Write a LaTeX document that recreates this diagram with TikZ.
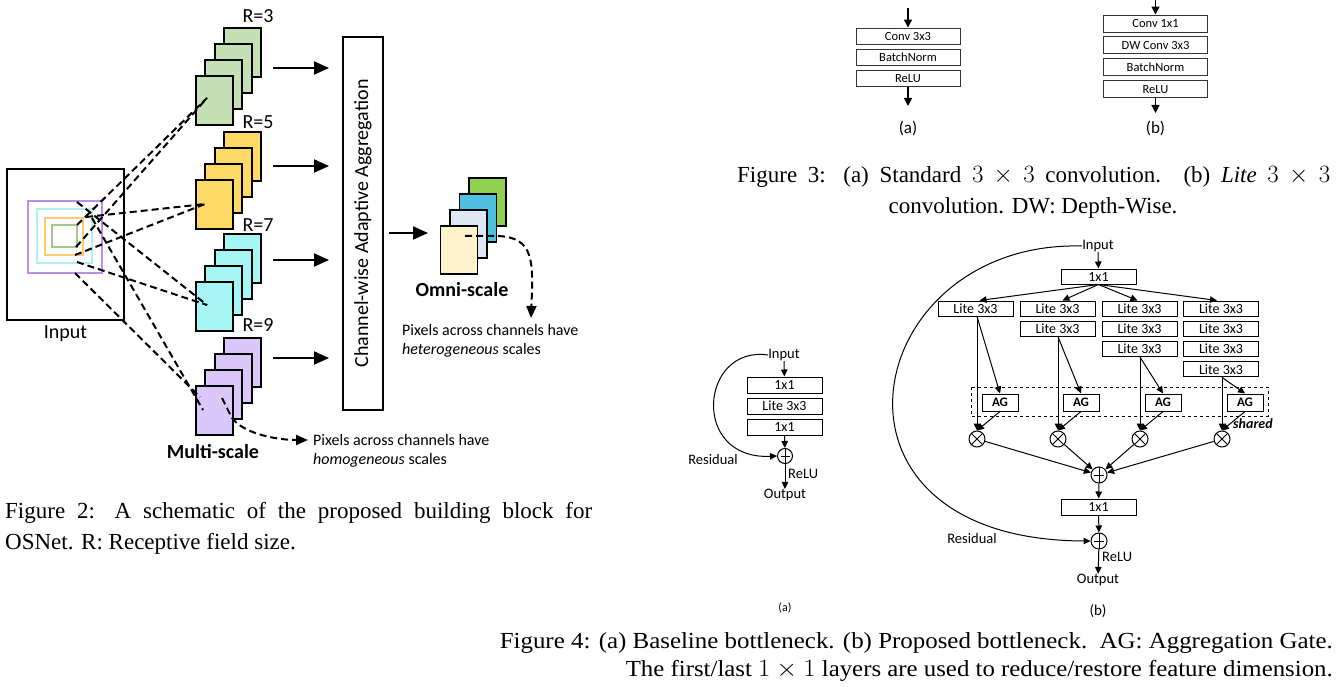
\documentclass[tikz,border=0pt]{standalone}
\usepackage{fontspec}
\setmainfont{Liberation Serif}
\newfontfamily\diagfont{Carlito}
\usetikzlibrary{arrows.meta, positioning, calc}

\definecolor{fmgreen}{RGB}{197,224,180}
\definecolor{fmyellow}{RGB}{255,217,102}
\definecolor{fmcyan}{RGB}{166,246,246}
\definecolor{fmpurple}{RGB}{218,200,250}
\definecolor{omgreen}{RGB}{146,208,80}
\definecolor{omblue}{RGB}{80,192,226}
\definecolor{omgray}{RGB}{222,232,244}
\definecolor{omcream}{RGB}{255,242,204}
\definecolor{rfpurple}{RGB}{190,140,235}
\definecolor{rfcyan}{RGB}{175,240,240}
\definecolor{rfyellow}{RGB}{250,205,110}
\definecolor{rfgreen}{RGB}{160,200,140}

\tikzset{
  fmap/.style={rectangle, draw=black, line width=2pt, minimum width=37pt,
               minimum height=49pt, inner sep=0pt},
  omap/.style={fmap, line width=1.6pt, minimum height=48pt},
  rfield/.style={line width=2pt},
  dline/.style={draw=black, line width=2pt, dash pattern=on 7pt off 4pt},
  bigarrow/.style={draw=black, line width=2pt, -{Triangle[length=15pt,width=13pt]}},
  dcurve/.style={dline, -{Triangle[length=12pt,width=10pt]}},
  bigtext/.style={font=\diagfont\fontsize{20}{24}\selectfont, inner sep=0pt},
  notetext/.style={font=\diagfont\fontsize{16}{19}\selectfont, inner sep=0pt,
                   align=left},
  convbox/.style={rectangle, draw=black!80, line width=0.9pt, minimum width=104pt,
                  inner sep=0pt, font=\diagfont\fontsize{12.5}{14}\selectfont},
  carr/.style={draw=black, line width=1.2pt, -{Triangle[length=8pt,width=8pt]}},
  layer/.style={rectangle, draw=black, line width=1pt, minimum width=75pt,
                minimum height=15pt, inner sep=0pt,
                font=\diagfont\fontsize{14}{16}\selectfont},
  agbox/.style={rectangle, draw=black, line width=1pt, minimum width=36pt,
                minimum height=17pt, inner sep=0pt,
                font=\diagfont\bfseries\fontsize{13}{15}\selectfont},
  opcirc/.style={circle, draw=black, line width=1pt, fill=white,
                 minimum size=16pt, inner sep=0pt},
  mulop/.style={opcirc, path picture={
      \draw[line width=0.8pt] (path picture bounding box.south west) -- (path picture bounding box.north east)
                              (path picture bounding box.north west) -- (path picture bounding box.south east);}},
  addop/.style={opcirc, path picture={
      \draw[line width=0.8pt] ($(path picture bounding box.north)+(0,3pt)$) -- ($(path picture bounding box.south)+(0,-3pt)$)
                              ($(path picture bounding box.west)+(3pt,0)$) -- ($(path picture bounding box.east)+(-3pt,0)$);}},
  arr/.style={draw=black, line width=1pt, -{Triangle[length=7pt,width=6.5pt]}},
  lbl/.style={font=\diagfont\fontsize{14.5}{17}\selectfont, inner sep=0pt},
  captxt/.style={font=\fontsize{23}{28}\selectfont, inner sep=0pt},
}

% one stack of four feature maps: name, colour, top of the back map
\newcommand{\fmstack}[3]{%
  \foreach \i in {0,...,3}{
    \node[fmap, fill=#2, anchor=north west] (#1\i) at (223-9.3*\i, #3+16*\i) {};
  }%
}

\begin{document}
\begin{tikzpicture}[x=1pt, y=-1pt]
  \useasboundingbox (0,0) rectangle (1336,687);

  % ---------------- Figure 2 ----------------
  \node[draw=black, line width=2pt, minimum width=117pt, minimum height=151pt,
        inner sep=0pt, anchor=north west] (inp) at (6,168) {};
  \node[bigtext, below=4pt of inp] (inplbl) {Input};
  \draw[rfield, draw=rfpurple] (28,201) rectangle (102,273);
  \draw[rfield, draw=rfcyan]   (37,209) rectangle (92,263);
  \draw[rfield, draw=rfyellow] (45,218) rectangle (83,255);
  \draw[rfield, draw=rfgreen]  (52,225) rectangle (77,247);

  \fmstack{s3}{fmgreen}{27}
  \fmstack{s5}{fmyellow}{131}
  \fmstack{s7}{fmcyan}{233}
  \fmstack{s9}{fmpurple}{337}

  \node[bigtext] (r3) at (258,16) {R=3};
  \node[bigtext] (r5) at (258,122) {R=5};
  \node[bigtext] (r7) at (258,225) {R=7};
  \node[bigtext] (r9) at (258,325) {R=9};

  % receptive field corners and their pixels
  \coordinate (g1) at (77,225);  \coordinate (g2) at (76,247);
  \coordinate (y1) at (86,217);  \coordinate (y2) at (75,255);
  \coordinate (c1) at (77,202);  \coordinate (c2) at (77,262);
  \coordinate (v1) at (92,218);  \coordinate (v2) at (75,273);
  \coordinate (p3) at (207,98);
  \coordinate (p5) at (205,204);
  \coordinate (p7) at (207,305);
  \coordinate (p9a) at (203,410); \coordinate (p9b) at (200,397);
  \draw[dline] (g1) -- (p3);  \draw[dline] (g2) -- (p3);
  \draw[dline] (y1) -- (p5);  \draw[dline] (y2) -- (p5);
  \draw[dline] (c1) -- (p7);  \draw[dline] (c2) -- (p7);
  \draw[dline] (v1) -- (p9a); \draw[dline] (v2) -- (p9b);

  \node[draw=black, line width=2pt, minimum width=373pt, minimum height=40pt,
        inner sep=0pt, rotate=90, font=\diagfont\fontsize{20}{24}\selectfont]
        (agg) at (363,223.5) {Channel-wise Adaptive Aggregation};

  \coordinate (a3) at (260,68);  \coordinate (a5) at (260,166);
  \coordinate (a7) at (260,260); \coordinate (a9) at (260,358);
  \foreach \a in {a3,a5,a7,a9}
    \draw[bigarrow, shorten <=13pt, shorten >=13pt] (\a) -- (\a -| agg.north);

  % omni-scale output
  \node[omap, fill=omgreen, anchor=north west] (o0) at (468,177) {};
  \node[omap, fill=omblue,  anchor=north west] (o1) at (458.5,193) {};
  \node[omap, fill=omgray,  anchor=north west] (o2) at (449,209) {};
  \node[omap, fill=omcream, anchor=north west] (o3) at (439.5,225) {};
  \coordinate (oin) at (428,233);
  \draw[bigarrow, shorten <=5pt] (agg.south |- oin) -- (oin);
  \node[bigtext, font=\diagfont\bfseries\fontsize{20}{24}\selectfont] (omni) at (462,290) {Omni-scale};
  \node[bigtext, font=\diagfont\bfseries\fontsize{20}{24}\selectfont] (multi) at (213,452) {Multi-scale};

  \coordinate (op) at (465,236);
  \coordinate (ohet) at (531,318);
  \draw[dcurve] (op) -- (497,236) .. controls (535,237) and (533,262) .. (ohet);
  \node[notetext, anchor=north west] (het) at (402,324)
    {Pixels across channels have\\\textit{heterogeneous} scales};

  \coordinate (mp) at (222,398);
  \coordinate (mhom) at (308,440);
  \draw[dcurve] (mp) -- (232,418) .. controls (245,435) and (280,440) .. (mhom);
  \node[notetext, anchor=north west] (hom) at (313,434)
    {Pixels across channels have\\\textit{homogeneous} scales};

  \node[captxt, anchor=west] (cap2a) at (5,513)
    {\makebox[587pt][s]{Figure 2: A schematic of the proposed building block for}};
  \node[captxt, anchor=west] (cap2b) at (5,544) {OSNet. R: Receptive field size.};

  % ---------------- Figure 3 ----------------
  \node[convbox, minimum height=16pt] (sc1) at (908,36) {Conv 3x3};
  \node[convbox, minimum height=16pt, below=4.5pt of sc1] (sc2) {BatchNorm};
  \node[convbox, minimum height=16pt, below=4.5pt of sc2] (sc3) {ReLU};
  \coordinate (scin) at (908,8);
  \coordinate (scout) at (908,106);
  \draw[carr] (scin) -- (sc1);
  \draw[carr] (sc3) -- (scout);
  \node[font=\diagfont\fontsize{17}{20}\selectfont] (sca) at (908,128) {(a)};

  \node[convbox, minimum height=17pt] (lc1) at (1155.5,23.5) {Conv 1x1};
  \node[convbox, minimum height=17pt, below=4pt of lc1] (lc2) {DW Conv 3x3};
  \node[convbox, minimum height=17pt, below=4pt of lc2] (lc3) {BatchNorm};
  \node[convbox, minimum height=17pt, below=4pt of lc3] (lc4) {ReLU};
  \coordinate (lcin) at (1155.5,0);
  \coordinate (lcout) at (1155.5,113);
  \draw[carr] (lcin) -- (lc1);
  \draw[carr] (lc4) -- (lcout);
  \node[font=\diagfont\fontsize{17}{20}\selectfont] (lcb) at (1155.5,128) {(b)};

  \node[captxt, anchor=west] (cap3a) at (737,177)
    {\makebox[593pt][s]{Figure 3: (a) Standard $3\times 3$ convolution. (b) \textit{Lite} $3\times 3$}};
  \node[captxt] (cap3b) at (1033,208) {convolution. DW: Depth-Wise.};

  % ---------------- Figure 4 (a) ----------------
  \node[lbl] (ina) at (784,355) {Input};
  \node[layer, minimum height=16pt] (ba1) at (784.5,385) {1x1};
  \node[layer, minimum height=16pt, below=4pt of ba1] (ba2) {Lite 3x3};
  \node[layer, minimum height=16pt, below=4pt of ba2] (ba3) {1x1};
  \node[addop, minimum size=15pt] (adda) at (785,456) {};
  \node[lbl] (outa) at (785,495) {Output};
  \draw[arr] (ina) -- (ba1);
  \draw[arr] (ba3) -- (adda);
  \draw[arr] (adda) -- (outa);
  \draw[arr] (ina.west) .. controls (700,345) and (690,460) .. (adda.west);
  \node[lbl] (resa) at (713,460) {Residual};
  \node[lbl, anchor=west] (relua) at (788,474) {ReLU};
  \node[font=\diagfont\fontsize{12}{14}\selectfont] (capa) at (785,608) {(a)};

  % ---------------- Figure 4 (b) ----------------
  \node[lbl] (inb) at (1098,246) {Input};
  \node[layer] (bb1) at (1098.5,276.5) {1x1};
  \node[layer] (l11) at (975.5,308.5) {Lite 3x3};
  \node[layer] (l21) at (1057.5,308.5) {Lite 3x3};
  \node[layer, below=4.3pt of l21] (l22) {Lite 3x3};
  \node[layer] (l31) at (1139.5,308.5) {Lite 3x3};
  \node[layer, below=4.3pt of l31] (l32) {Lite 3x3};
  \node[layer, below=4.3pt of l32] (l33) {Lite 3x3};
  \node[layer] (l41) at (1221,308.5) {Lite 3x3};
  \node[layer, below=4.3pt of l41] (l42) {Lite 3x3};
  \node[layer, below=4.3pt of l42] (l43) {Lite 3x3};
  \node[layer, below=4.3pt of l43] (l44) {Lite 3x3};
  \draw[arr] (inb) -- (bb1);
  \draw[arr] (bb1.south) -- ([xshift=4pt]l11.north);
  \draw[arr] (bb1.south) -- ([xshift=5pt]l21.north);
  \draw[arr] (bb1.south) -- ([xshift=-2pt]l31.north);
  \draw[arr] (bb1.south) -- ([xshift=-4pt]l41.north);

  \draw[line width=1pt, dashed] (971,387) rectangle (1268,416);
  \node[agbox] (ag1) at (1000,402.5) {AG};
  \node[agbox] (ag2) at (1081,402.5) {AG};
  \node[agbox] (ag3) at (1163,402.5) {AG};
  \node[agbox] (ag4) at (1245,402.5) {AG};
  \node[mulop] (mul1) at (977,439) {};
  \node[mulop] (mul2) at (1058,439) {};
  \node[mulop] (mul3) at (1140,439) {};
  \node[mulop] (mul4) at (1222,439) {};
  \foreach \last/\k in {l11/1, l22/2, l33/3, l44/4}{
    \draw[arr] (\last.south -| mul\k) -- (mul\k.north);
    \draw[arr] (\last.south -| mul\k) -- (ag\k.north);
    \draw[arr] (ag\k.south) -- (mul\k.north);
  }
  \node[lbl, anchor=west, font=\diagfont\bfseries\itshape\fontsize{14}{16}\selectfont]
    (shared) at (1233,424) {shared};

  \node[addop] (addb1) at (1099,475) {};
  \foreach \k in {1,...,4}
    \draw[arr] (mul\k) -- (addb1);
  \node[layer, minimum height=16pt] (bb2) at (1098.5,507) {1x1};
  \node[addop] (addb2) at (1099,541) {};
  \node[lbl] (outb) at (1098,580) {Output};
  \draw[arr] (addb1) -- (bb2);
  \draw[arr] (bb2) -- (addb2);
  \draw[arr] (addb2) -- (outb);
  \draw[arr] (inb.west) .. controls (860,240) and (800,540) .. (addb2.west);
  \node[lbl] (resb) at (972,539) {Residual};
  \node[lbl, anchor=west] (relub) at (1102,557) {ReLU};
  \node[font=\diagfont\fontsize{15}{18}\selectfont] (capb) at (1098,611) {(b)};

  \node[captxt, anchor=east] (cap4a) at (1333,643)
    {\resizebox{833pt}{\height}{Figure 4: (a) Baseline bottleneck. (b) Proposed bottleneck.\ \ AG: Aggregation Gate.}};
  \node[captxt, anchor=east] (cap4b) at (1333,670.5)
    {\resizebox{707pt}{\height}{The first/last $1\times 1$ layers are used to reduce/restore feature dimension.}};
\end{tikzpicture}
\end{document}
